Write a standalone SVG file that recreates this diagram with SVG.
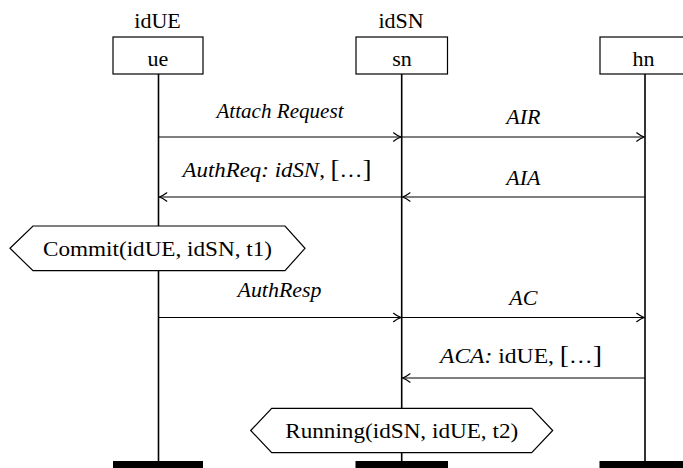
<svg xmlns="http://www.w3.org/2000/svg" width="683" height="468" viewBox="0 0 683 468">
  <defs>
    <style>
      text { font-family: "Liberation Serif", "Times New Roman", serif; font-size: 22px; fill: #000; text-anchor: middle; }
      .it { font-style: italic; }
      .br { font-size: 26px; font-style: normal; }
      .box { fill: #fff; stroke: #000; stroke-width: 1.2; }
      .life { stroke: #000; stroke-width: 1.6; fill: none; }
      .bar { fill: #000; }
      .msg { stroke: #000; stroke-width: 1.2; fill: none; marker-end: url(#to); }
      .hex { fill: #fff; stroke: #000; stroke-width: 1.2; }
    </style>
    <marker id="to" markerUnits="userSpaceOnUse" markerWidth="12" markerHeight="12" viewBox="-9 -6 12 12" refX="0" refY="0" orient="auto">
      <path d="M-7.5,-4.2 C-5,-2.2 -2,-0.7 0,0 C-2,0.7 -5,2.2 -7.5,4.2" fill="none" stroke="#000" stroke-width="1.2" stroke-linecap="round" stroke-linejoin="round"/>
    </marker>
  </defs>

  <!-- lifelines -->
  <g id="lifelines">
    <line class="life" x1="158.5" y1="74" x2="158.5" y2="462"/>
    <line class="life" x1="401.7" y1="74" x2="401.7" y2="462"/>
    <line class="life" x1="645" y1="74" x2="645" y2="462"/>
  </g>

  <!-- participants -->
  <g id="ue">
    <text x="157.5" y="28">idUE</text>
    <rect class="box" x="113" y="37" width="90" height="37"/>
    <text x="158" y="66">ue</text>
    <rect class="bar" x="113" y="461" width="90" height="7"/>
  </g>
  <g id="sn">
    <text x="401" y="28">idSN</text>
    <rect class="box" x="356" y="37" width="91.5" height="37"/>
    <text x="402" y="66">sn</text>
    <rect class="bar" x="355.5" y="461" width="92.5" height="7"/>
  </g>
  <g id="hn">
    <rect class="box" x="600" y="37" width="90" height="37"/>
    <text x="643.5" y="66">hn</text>
    <rect class="bar" x="599.5" y="461" width="90" height="7"/>
  </g>

  <!-- messages -->
  <g id="connectors">
    <line class="msg" x1="158.5" y1="137" x2="401" y2="137"/>
    <line class="msg" x1="401.7" y1="137" x2="644.2" y2="137"/>
    <line class="msg" x1="401.7" y1="197" x2="159.3" y2="197"/>
    <line class="msg" x1="645" y1="197" x2="402.5" y2="197"/>
    <line class="msg" x1="158.5" y1="317.5" x2="401" y2="317.5"/>
    <line class="msg" x1="401.7" y1="317.5" x2="644.2" y2="317.5"/>
    <line class="msg" x1="645" y1="378" x2="402.5" y2="378"/>
  </g>

  <g id="labels">
    <text class="it" x="280" y="118" textLength="127" lengthAdjust="spacingAndGlyphs">Attach Request</text>
    <text class="it" x="523.3" y="124">AIR</text>
    <text x="277" y="177" textLength="189" lengthAdjust="spacingAndGlyphs"><tspan class="it">AuthReq: idSN, </tspan><tspan class="br">[</tspan>…<tspan class="br">]</tspan></text>
    <text class="it" x="523.3" y="185">AIA</text>
    <text class="it" x="279.5" y="297" textLength="84" lengthAdjust="spacingAndGlyphs">AuthResp</text>
    <text class="it" x="523.3" y="305">AC</text>
    <text x="521" y="363" textLength="162" lengthAdjust="spacingAndGlyphs"><tspan class="it">ACA:</tspan> idUE, <tspan class="br">[</tspan>…<tspan class="br">]</tspan></text>
  </g>

  <!-- state annotations -->
  <g id="commit">
    <polygon class="hex" points="10,248.3 33,226 285,226 305,248.3 285,270.7 33,270.7"/>
    <text x="157.5" y="255.5" textLength="229" lengthAdjust="spacingAndGlyphs">Commit(idUE, idSN, t1)</text>
  </g>
  <g id="running">
    <polygon class="hex" points="250.7,430.5 271.7,408.3 531.7,408.3 552.7,430.5 531.7,452.7 271.7,452.7"/>
    <text x="401.7" y="437.5" textLength="233" lengthAdjust="spacingAndGlyphs">Running(idSN, idUE, t2)</text>
  </g>
</svg>
